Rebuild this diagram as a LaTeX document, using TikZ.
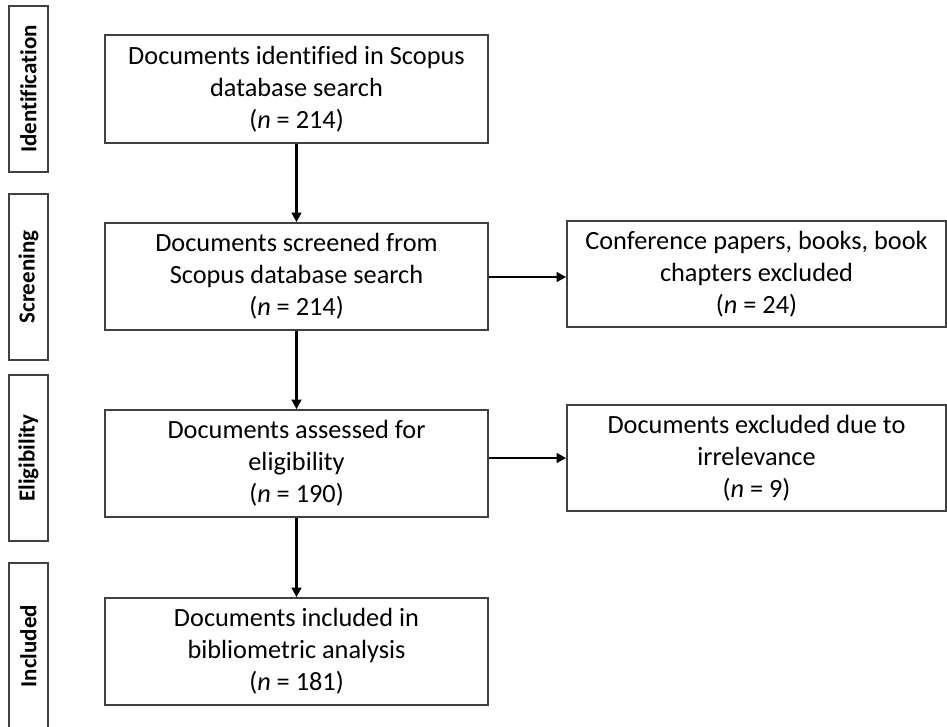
\documentclass[tikz,border=0pt]{standalone}
\usepackage{fontspec}
\setmainfont[Ligatures={NoCommon}]{Carlito}
\usetikzlibrary{arrows.meta}
\definecolor{boxline}{HTML}{404040}
\begin{document}
\begin{tikzpicture}[x=1pt,y=-1pt,
  mainbox/.style={draw=boxline,line width=1.6pt,fill=white,inner sep=0pt,
    minimum width=383pt,minimum height=107pt,align=center,
    font=\fontsize{26.3}{32}\selectfont},
  sidebox/.style={mainbox,minimum width=379pt,minimum height=106pt},
  stagebox/.style={draw=boxline,line width=1.6pt,inner sep=0pt,rotate=90,
    minimum width=166pt,minimum height=39pt,font=\fontsize{23}{28}\selectfont\bfseries},
  flow/.style={line width=2.6pt,-{Triangle[width=9.5pt,length=9.5pt]}}]
\useasboundingbox (0,0) rectangle (947,726);
\clip (0,0) rectangle (947,726);
\fill[white] (0,0) rectangle (947,726);
% stage labels
\node[stagebox] (s1) at (28.5,89) {Identification};
\node[stagebox] (s2) at (28.5,277) {Screening};
\node[stagebox] (s3) at (28.5,458) {Eligibility};
\node[stagebox] (s4) at (28.5,646) {Included};
% main column
\node[mainbox,minimum height=108pt] (m1) at (296.5,89) {Documents identified in Scopus\\database search\\(\textit{n} = 214)};
\node[mainbox] (m2) at (296.5,276.5) {Documents screened from\\Scopus database search\\(\textit{n} = 214)};
\node[mainbox] (m3) at (296.5,463.5) {Documents assessed for\\eligibility\\(\textit{n} = 190)};
\node[mainbox] (m4) at (296.5,651.5) {Documents included in\\bibliometric analysis\\(\textit{n} = 181)};
% side column
\node[sidebox] (r1) at (756.5,274) {Conference papers, books, book\\chapters excluded\\(\textit{n} = 24)};
\node[sidebox] (r2) at (756.5,458) {Documents excluded due to\\irrelevance\\(\textit{n} = 9)};
% connectors
\draw[flow] (m1) -- (m2);
\draw[flow] (m2) -- (m3);
\draw[flow] (m3) -- (m4);
\draw[flow] (m2.east |- 0,277) coordinate (a1) -- (a1 -| r1.west);
\draw[flow] (r2.west -| m3.east) -- (r2.west);
\end{tikzpicture}
\end{document}
